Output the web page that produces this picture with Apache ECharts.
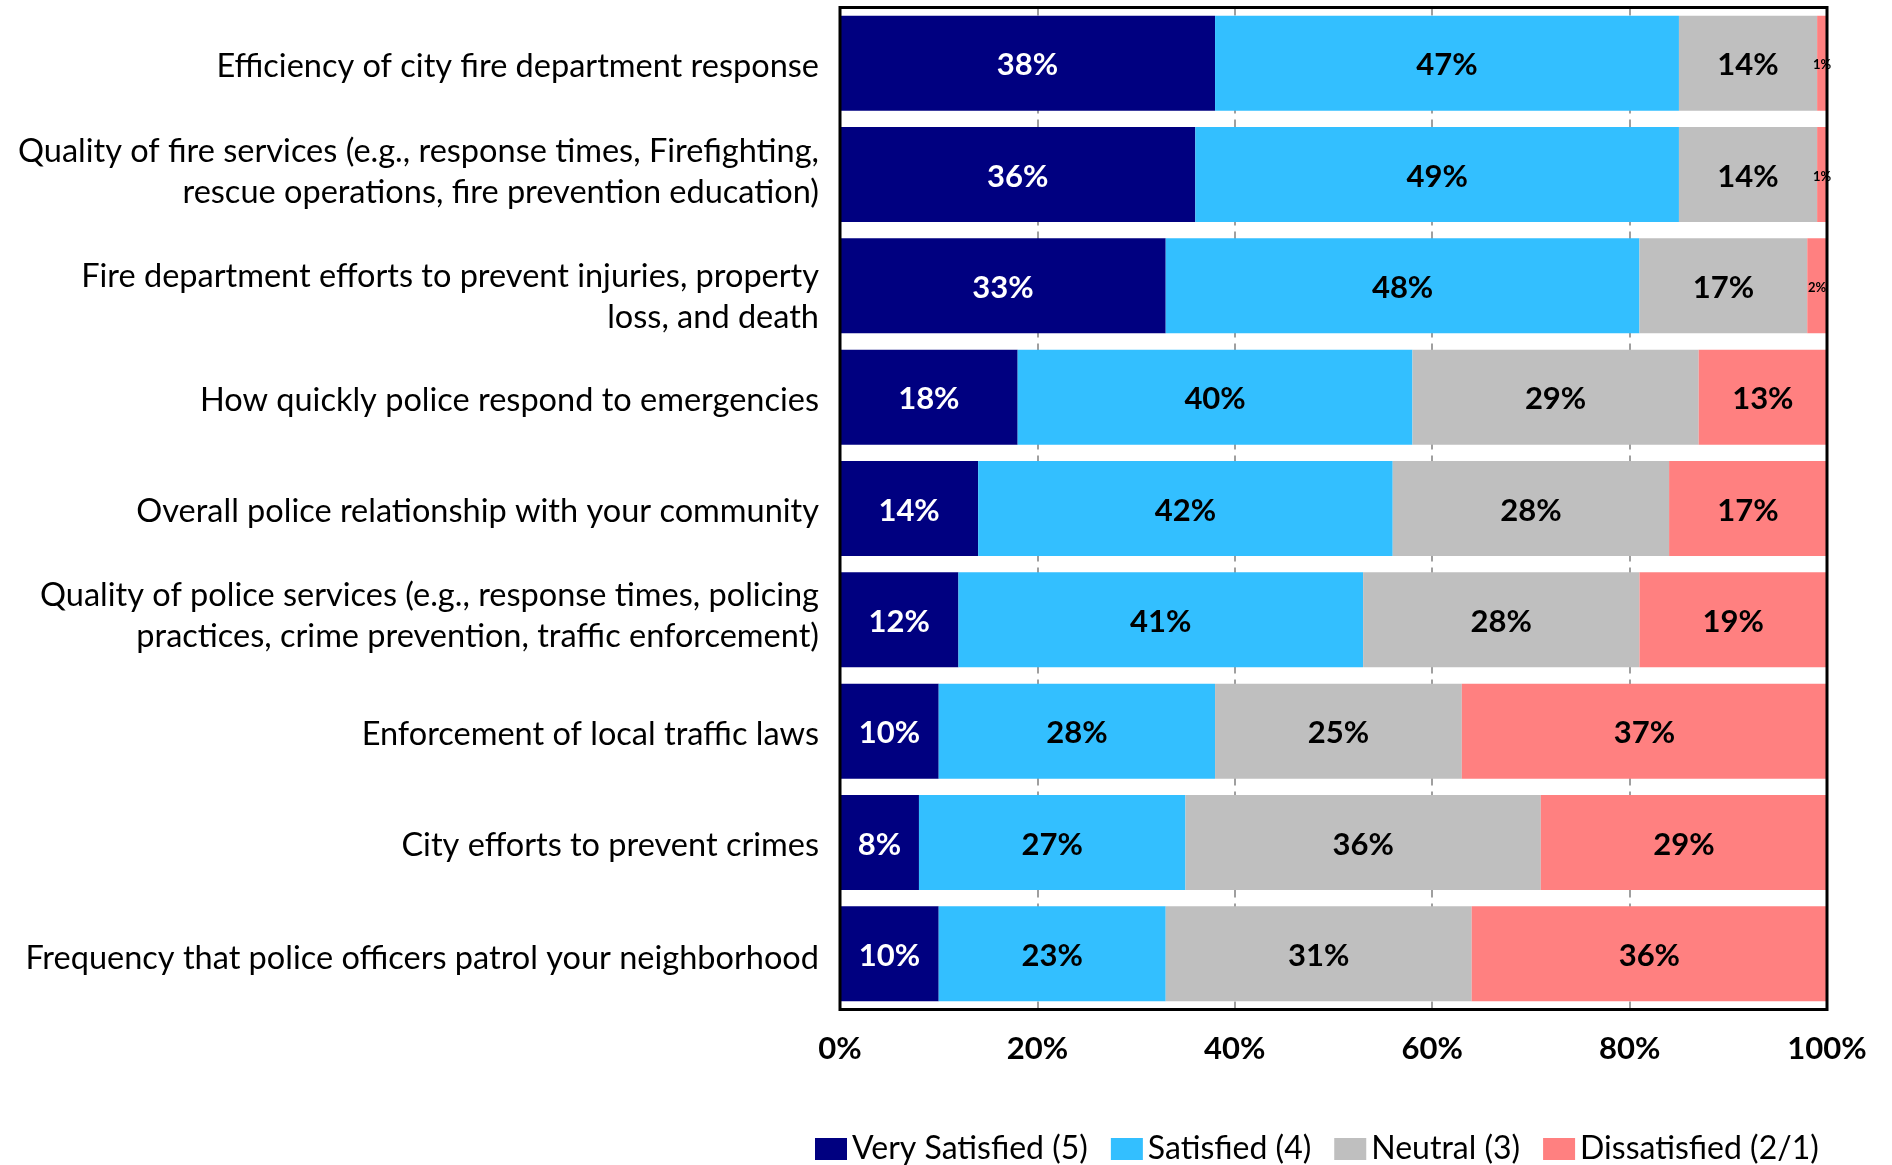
<!DOCTYPE html>
<html>
<head>
<meta charset="utf-8">
<title>Satisfaction with public safety services</title>
<script src="https://cdn.jsdelivr.net/npm/echarts@6/dist/echarts.min.js"></script>
<style>
  html, body { margin: 0; padding: 0; background: #ffffff; }
  #chart { width: 1892px; height: 1165px; }
</style>
</head>
<body>
<div id="chart"></div>
<script>
// Survey items, top to bottom
const categories = [
  'Efficiency of city fire department response',
  'Quality of fire services (e.g., response times, Firefighting,\nrescue operations, fire prevention education)',
  'Fire department efforts to prevent injuries, property\nloss, and death',
  'How quickly police respond to emergencies',
  'Overall police relationship with your community',
  'Quality of police services (e.g., response times, policing\npractices, crime prevention, traffic enforcement)',
  'Enforcement of local traffic laws',
  'City efforts to prevent crimes',
  'Frequency that police officers patrol your neighborhood'
];

// Share of respondents (%) per rating
const verySatisfied = [38, 36, 33, 18, 14, 12, 10, 8, 10];
const satisfied     = [47, 49, 48, 40, 42, 41, 28, 27, 23];
const neutral       = [14, 14, 17, 29, 28, 28, 25, 36, 31];
const dissatisfied  = [1, 1, 2, 13, 17, 19, 37, 29, 36];

const seriesNames = ['Very Satisfied (5)', 'Satisfied (4)', 'Neutral (3)', 'Dissatisfied (2/1)'];
const seriesColors = ['#000080', '#33bfff', '#bfbfbf', '#ff8080'];
const labelColors = ['#ffffff', '#000000', '#000000', '#000000'];

const FONT = 'Lato, "Open Sans", sans-serif';

// vertical nudge (px, + = down) of each item label relative to its bar
const labelShift = [3, -2, 11.5, 3, 3, -3.5, 3, 3, 5];

// rich styles: 't' for the text, 'g<i>' for the spacer line that nudges row i
const labelRich = {
  t: { fontFamily: FONT, fontSize: 32.5, lineHeight: 41, color: '#000000', align: 'right' }
};
labelShift.forEach((s, i) => {
  labelRich['g' + i] = { fontSize: 1, lineHeight: Math.max(1, Math.abs(s) * 2), align: 'right' };
});

function formatItemLabel(value, index) {
  const body = String(value).split('\n').map(l => '{t|' + l + '}').join('\n');
  const s = labelShift[index] || 0;
  if (s > 0) return '{g' + index + '| }\n' + body;
  if (s < 0) return body + '\n{g' + index + '| }';
  return body;
}

function buildSeries(name, values, color, labelColor) {
  return {
    name: name,
    type: 'bar',
    stack: 'total',
    barCategoryGap: '14.6%',
    itemStyle: { color: color },
    label: {
      show: true,
      position: 'inside',
      offset: [0, 2],
      formatter: '{c}%',
      color: labelColor,
      fontFamily: FONT,
      fontWeight: 'bold',
      fontSize: 31
    },
    data: values.map(v => ({
      value: v,
      // very thin segments get a small label
      label: v < 5 ? { fontSize: 13 } : undefined
    }))
  };
}

const chart = echarts.init(document.getElementById('chart'), null, { renderer: 'canvas' });

chart.setOption({
  animation: false,
  backgroundColor: '#ffffff',
  grid: {
    left: 840,
    right: 65,
    top: 7.5,
    bottom: 155.5,
    show: true,
    z: 5,
    backgroundColor: 'transparent',
    borderColor: '#000000',
    borderWidth: 3
  },
  legend: {
    left: 810,
    top: 1128,
    itemWidth: 32,
    itemHeight: 22,
    itemGap: 23,
    icon: 'rect',
    textStyle: { fontFamily: FONT, fontSize: 32, color: '#000000' },
    data: seriesNames
  },
  xAxis: {
    type: 'value',
    min: 0,
    max: 100,
    interval: 20,
    axisLine: { show: false },
    axisTick: { show: false },
    splitLine: { show: true, lineStyle: { color: '#808080', width: 1.5, type: [8, 6] } },
    axisLabel: {
      formatter: '{value}%',
      fontFamily: FONT,
      fontWeight: 'bold',
      fontSize: 31,
      color: '#000000',
      margin: 24
    }
  },
  yAxis: {
    type: 'category',
    inverse: true,
    data: categories,
    axisLine: { show: false },
    axisTick: { show: false },
    axisLabel: {
      fontFamily: FONT,
      fontSize: 32.5,
      lineHeight: 41,
      color: '#000000',
      margin: 21,
      align: 'right',
      formatter: formatItemLabel,
      rich: labelRich
    }
  },
  series: [
    buildSeries(seriesNames[0], verySatisfied, seriesColors[0], labelColors[0]),
    buildSeries(seriesNames[1], satisfied, seriesColors[1], labelColors[1]),
    buildSeries(seriesNames[2], neutral, seriesColors[2], labelColors[2]),
    buildSeries(seriesNames[3], dissatisfied, seriesColors[3], labelColors[3])
  ]
});
</script>
</body>
</html>
